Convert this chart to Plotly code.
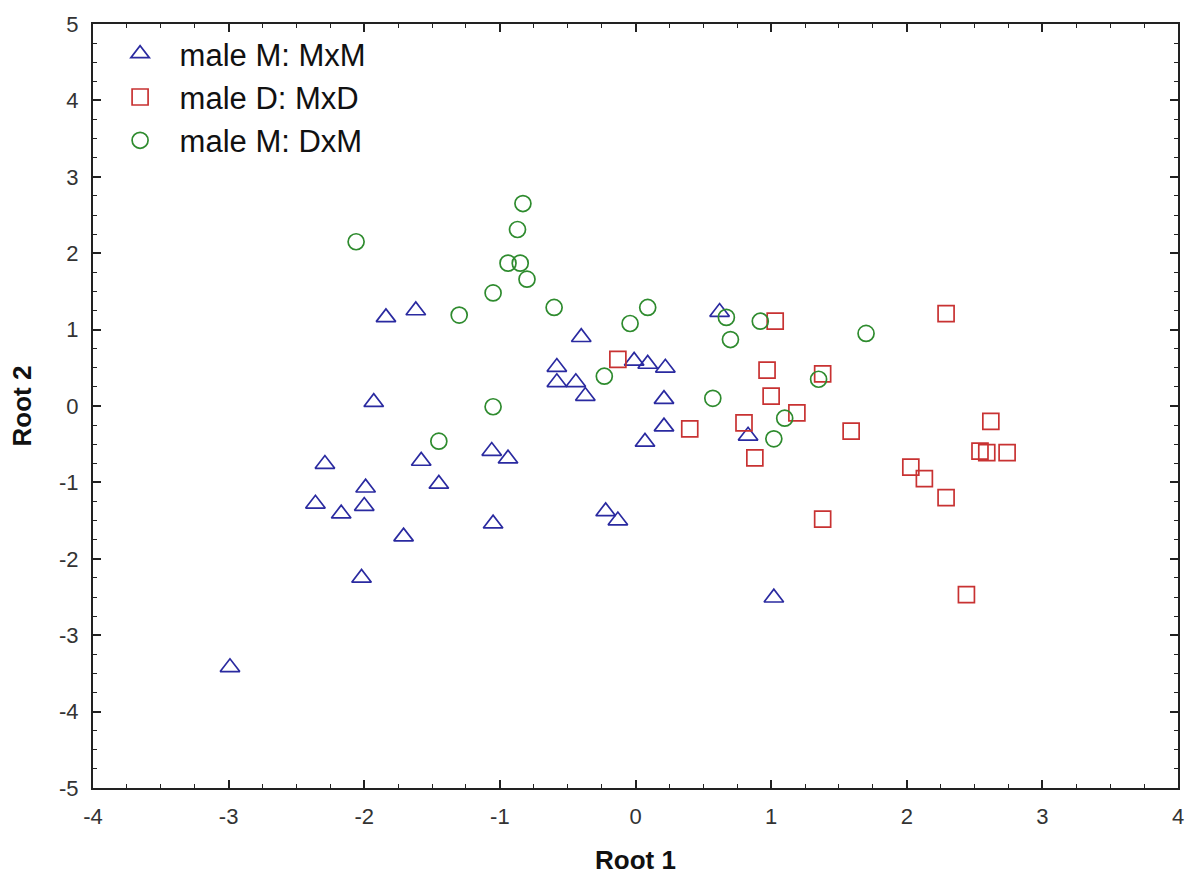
import plotly.graph_objects as go

# Series values
mxm_x = [-2.99, -2.02, -1.71, -2.29, -2.36, -2.17, -1.99, -2.00, -1.84, -1.62, -1.93,
         -1.58, -1.45, -1.06, -0.94, -1.05, -0.58, -0.58, -0.44, -0.37, -0.40, -0.01,
         0.09, 0.22, 0.21, 0.21, 0.07, -0.22, -0.13, 0.62, 0.83, 1.02]
mxm_y = [-3.42, -2.25, -1.71, -0.76, -1.28, -1.41, -1.07, -1.31, 1.16, 1.25, 0.05,
         -0.72, -1.02, -0.59, -0.69, -1.54, 0.51, 0.31, 0.31, 0.13, 0.90, 0.59,
         0.55, 0.50, 0.09, -0.27, -0.47, -1.38, -1.50, 1.23, -0.39, -2.51]

mxd_x = [-0.13, 0.40, 1.03, 0.97, 1.00, 0.80, 0.88, 1.19, 1.38, 1.59, 1.38,
         2.29, 2.03, 2.13, 2.29, 2.62, 2.54, 2.59, 2.74, 2.44]
mxd_y = [0.61, -0.30, 1.11, 0.47, 0.13, -0.22, -0.68, -0.09, 0.42, -0.33, -1.48,
         1.21, -0.80, -0.95, -1.20, -0.20, -0.59, -0.61, -0.61, -2.47]

dxm_x = [-2.06, -1.30, -1.45, -1.05, -1.05, -0.83, -0.87, -0.94, -0.85, -0.80, -0.60,
         -0.23, -0.04, 0.09, 0.57, 0.67, 0.70, 0.92, 1.02, 1.10, 1.35, 1.70]
dxm_y = [2.15, 1.19, -0.46, 1.48, -0.01, 2.65, 2.31, 1.87, 1.87, 1.66, 1.29,
         0.39, 1.08, 1.29, 0.10, 1.16, 0.87, 1.11, -0.43, -0.16, 0.35, 0.95]

series_names = ["male M: MxM", "male D: MxD", "male M: DxM"]
x_ticks = [-4, -3, -2, -1, 0, 1, 2, 3, 4]
y_ticks = [-5, -4, -3, -2, -1, 0, 1, 2, 3, 4, 5]

BLUE = "#2a2aa0"
RED = "#c83232"
GREEN = "#2e8b2e"
FONT = "Liberation Sans, Arial, sans-serif"

fig = go.Figure()
fig.add_trace(go.Scatter(
    x=mxm_x, y=mxm_y, mode="markers", name=series_names[0],
    marker=dict(symbol="triangle-up-open", size=17, color=BLUE, line=dict(width=1.7, color=BLUE)),
))
fig.add_trace(go.Scatter(
    x=mxd_x, y=mxd_y, mode="markers", name=series_names[1],
    marker=dict(symbol="square-open", size=16, color=RED, line=dict(width=1.7, color=RED)),
))
fig.add_trace(go.Scatter(
    x=dxm_x, y=dxm_y, mode="markers", name=series_names[2],
    marker=dict(symbol="circle-open", size=16, color=GREEN, line=dict(width=1.7, color=GREEN)),
))

axis_common = dict(
    showgrid=False, zeroline=False, showline=True, linecolor="#222", linewidth=2,
    mirror="ticks", ticks="inside", ticklen=8, tickwidth=1.5, tickcolor="#222",
    tickfont=dict(family=FONT, size=22, color="#333"),
    minor=dict(ticks="inside", ticklen=4, tickwidth=1.2, tickcolor="#222", dtick=0.25),
)

fig.update_layout(
    width=1200, height=886,
    margin=dict(l=93, r=22, t=22, b=98),
    paper_bgcolor="white", plot_bgcolor="white",
    showlegend=True,
    legend=dict(
        x=0.007, y=0.996, xanchor="left", yanchor="top",
        font=dict(family=FONT, size=31, color="#111"),
        bgcolor="rgba(255,255,255,0)", itemwidth=69,
    ),
    xaxis=dict(range=[-4, 4], tickvals=x_ticks, ticktext=[str(v) for v in x_ticks],
               ticklabelstandoff=8,
               title=dict(text="<b>Root 1</b>", font=dict(family=FONT, size=26, color="#111"), standoff=22),
               **axis_common),
    yaxis=dict(range=[-5, 5], tickvals=y_ticks, ticktext=[str(v) for v in y_ticks],
               ticklabelstandoff=8,
               title=dict(text="<b>Root 2</b>", font=dict(family=FONT, size=26, color="#111"), standoff=20),
               **axis_common),
)

fig.write_html("out.html")
